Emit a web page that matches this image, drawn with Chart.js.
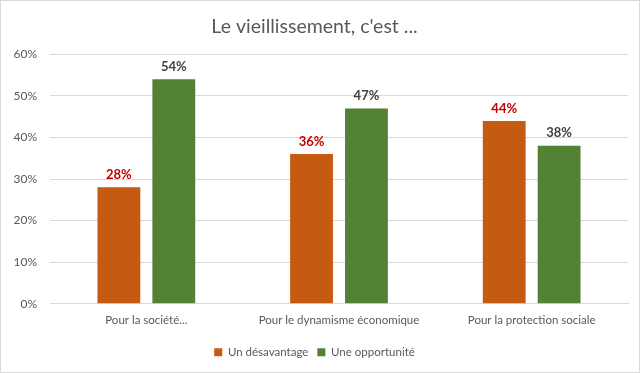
<!DOCTYPE html>
<html><head><meta charset="utf-8">
<script src="https://cdn.jsdelivr.net/npm/chart.js@4/dist/chart.umd.min.js"></script>
<style>
html,body{margin:0;padding:0;background:#fff;}
#wrap{position:absolute;left:0;top:0;width:638px;height:371px;border:1px solid #D9D9D9;}
</style></head><body>
<div id="wrap"><canvas id="c" width="638" height="371"></canvas></div>
<script>
const categories = ["Pour la société...", "Pour le dynamisme économique", "Pour la protection sociale"];
const desavantage = [28, 36, 44];
const opportunite = [54, 47, 38];
const seriesNames = ["Un désavantage", "Une opportunité"];
const yTicks = [0, 10, 20, 30, 40, 50, 60];

const font = "Lato, 'Open Sans', sans-serif";

const labelPlugin = {
  id: 'labels',
  afterDatasetsDraw(chart) {
    const ctx = chart.ctx;
    const colors = ['#C00000', '#404040'];
    chart.data.datasets.forEach((ds, i) => {
      const meta = chart.getDatasetMeta(i);
      meta.data.forEach((bar, j) => {
        ctx.save();
        ctx.font = "bold 13px " + font;
        ctx.fillStyle = colors[i];
        ctx.textAlign = 'center';
        ctx.textBaseline = 'bottom';
        ctx.fillText(ds.data[j] + '%', bar.x, bar.y - 6);
        ctx.restore();
      });
    });
  }
};

new Chart(document.getElementById('c'), {
  type: 'bar',
  data: {
    labels: categories,
    datasets: [
      { label: seriesNames[0], data: desavantage, backgroundColor: '#C55A11', barPercentage: 0.78, categoryPercentage: 0.57 },
      { label: seriesNames[1], data: opportunite, backgroundColor: '#548235', barPercentage: 0.78, categoryPercentage: 0.57 }
    ]
  },
  options: {
    responsive: false,
    animation: false,
    layout: { padding: { left: 0, right: 11, top: 0, bottom: 4 } },
    plugins: {
      title: { display: true, text: "Le vieillissement, c'est ...", color: '#595959',
        font: { family: font, size: 19.5, weight: 'normal' }, padding: { top: 14, bottom: 16 } },
      legend: { position: 'bottom', labels: { color: '#595959', font: { family: font, size: 11.5 },
        boxWidth: 8, boxHeight: 8, padding: 9 } },
      tooltip: { enabled: false }
    },
    scales: {
      x: {
        grid: { display: false, drawTicks: false },
        border: { color: '#D9D9D9' },
        ticks: { color: '#595959', font: { family: font, size: 11.5 }, padding: 10 }
      },
      y: {
        min: 0, max: 60,
        afterBuildTicks(axis) { axis.ticks = yTicks.map(v => ({ value: v })); },
        afterFit(axis) { axis.width = 49; },
        grid: { color: '#D9D9D9', drawTicks: false },
        border: { display: false },
        ticks: { color: '#595959', font: { family: font, size: 12 }, padding: 13,
          callback: v => v + '%' }
      }
    }
  },
  plugins: [labelPlugin]
});
</script>
</body></html>
